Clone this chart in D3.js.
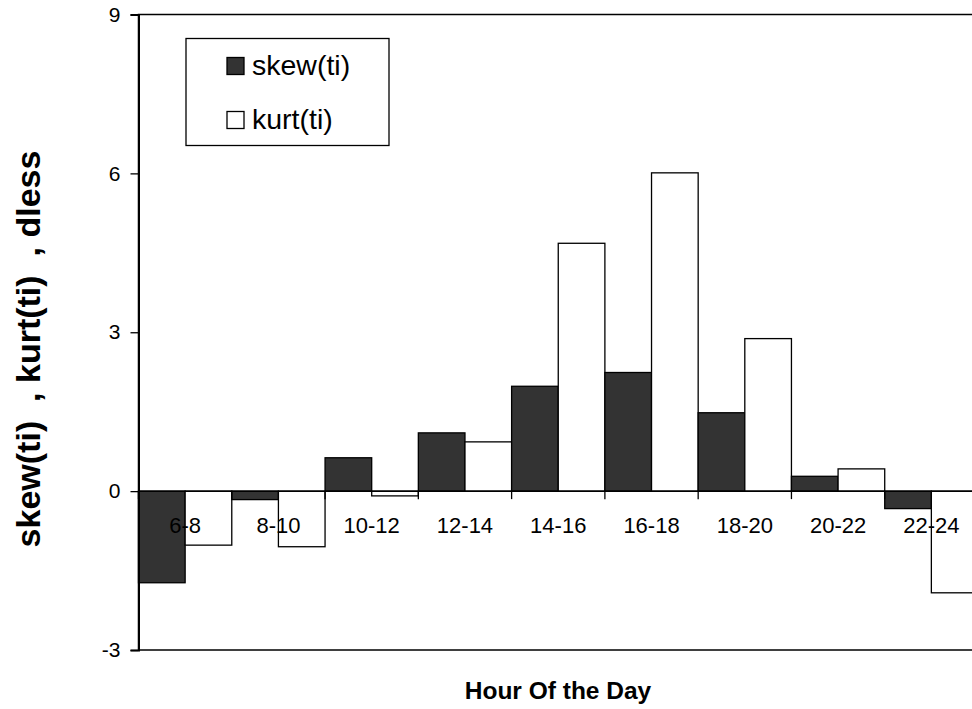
<!DOCTYPE html>
<html>
<head>
<meta charset="utf-8">
<script src="https://cdn.jsdelivr.net/npm/d3@7"></script>
<style>
  html, body { margin: 0; padding: 0; background: #fff; }
  svg { display: block; font-family: "Liberation Sans", Arial, sans-serif; }
</style>
</head>
<body>
<svg id="chart" width="972" height="709"></svg>
<script>
// Hourly skewness and kurtosis values
const categories = ["6-8", "8-10", "10-12", "12-14", "14-16", "16-18", "18-20", "20-22", "22-24"];
const seriesNames = ["skew(ti)", "kurt(ti)"];
const skewValues = [-1.73, -0.16, 0.63, 1.10, 1.98, 2.24, 1.48, 0.28, -0.33];
const kurtValues = [-1.02, -1.05, -0.09, 0.93, 4.68, 6.01, 2.88, 0.42, -1.92];
const yTicks = [-3, 0, 3, 6, 9];

const seriesFill = { "skew(ti)": "#333333", "kurt(ti)": "#ffffff" };

const svg = d3.select("#chart");
const plot = { left: 138.5, right: 978, top: 14.5, bottom: 650 };

const x = d3.scaleBand().domain(categories).range([plot.left, plot.right]).paddingInner(0).paddingOuter(0);
const xs = d3.scaleBand().domain(seriesNames).range([0, x.bandwidth()]).padding(0);
const y = d3.scaleLinear().domain([-3, 9]).range([plot.bottom, plot.top]);

const rows = categories.map((c, i) => ({ cat: c, values: [
  { name: "skew(ti)", v: skewValues[i] },
  { name: "kurt(ti)", v: kurtValues[i] }
]}));

// plot area frame
svg.append("rect")
  .attr("x", plot.left).attr("y", plot.top)
  .attr("width", plot.right - plot.left).attr("height", plot.bottom - plot.top)
  .attr("fill", "none").attr("stroke", "#000").attr("stroke-width", 1.5);

// bars
const groups = svg.append("g").selectAll("g").data(rows).join("g")
  .attr("transform", d => `translate(${x(d.cat)},0)`);
groups.selectAll("rect").data(d => d.values).join("rect")
  .attr("x", d => xs(d.name))
  .attr("width", xs.bandwidth())
  .attr("y", d => y(Math.max(0, d.v)))
  .attr("height", d => Math.abs(y(d.v) - y(0)))
  .attr("fill", d => seriesFill[d.name])
  .attr("stroke", "#000")
  .attr("stroke-width", 1.3);

// y axis
const yAxis = d3.axisLeft(y).tickValues(yTicks).tickSize(8).tickPadding(10).tickFormat(d => String(d));
const yg = svg.append("g").attr("transform", `translate(${plot.left},0)`).call(yAxis);
yg.select(".domain").attr("stroke", "#000").attr("stroke-width", 2);
yg.selectAll(".tick line").attr("stroke", "#000").attr("stroke-width", 1.3);
yg.selectAll(".tick text")
  .attr("fill", "#000")
  .style("font-size", "21px")
  .style("font-family", "Liberation Sans, Arial, sans-serif");

// x axis along zero with ticks at category boundaries
const zeroY = y(0);
svg.append("line")
  .attr("x1", plot.left).attr("x2", plot.right)
  .attr("y1", zeroY).attr("y2", zeroY)
  .attr("stroke", "#000").attr("stroke-width", 1.5);
const boundaries = categories.map(c => x(c)).concat([plot.right]);
svg.append("g").selectAll("line").data(boundaries).join("line")
  .attr("x1", d => d).attr("x2", d => d)
  .attr("y1", zeroY).attr("y2", zeroY + 8)
  .attr("stroke", "#000").attr("stroke-width", 1.3);

// category labels
svg.append("g").selectAll("text").data(categories).join("text")
  .attr("x", d => x(d) + x.bandwidth() / 2)
  .attr("y", zeroY + 42)
  .attr("text-anchor", "middle")
  .attr("font-size", 22)
  .attr("fill", "#000")
  .text(d => d);

// axis titles
svg.append("text")
  .attr("x", 558)
  .attr("y", 699)
  .attr("text-anchor", "middle")
  .attr("font-size", 24.5)
  .attr("font-weight", "bold")
  .text("Hour Of the Day");

svg.append("text")
  .attr("transform", "translate(40,349) rotate(-90)")
  .attr("text-anchor", "middle")
  .attr("font-size", 34)
  .attr("font-weight", "bold")
  .style("white-space", "pre")
  .text("skew(ti)  , kurt(ti)  , dless");

// legend
const legend = svg.append("g");
legend.append("rect")
  .attr("x", 186).attr("y", 38.5).attr("width", 203).attr("height", 107)
  .attr("fill", "#fff").attr("stroke", "#000").attr("stroke-width", 1.3);
const items = legend.selectAll("g").data(seriesNames).join("g")
  .attr("transform", (d, i) => `translate(227,${57.5 + i * 54})`);
items.append("rect")
  .attr("width", 17).attr("height", 17)
  .attr("fill", d => seriesFill[d]).attr("stroke", "#000").attr("stroke-width", 1.3);
items.append("text")
  .attr("x", 25).attr("y", 17.5)
  .attr("font-size", 28.5)
  .attr("fill", "#000")
  .text(d => d);
</script>
</body>
</html>
